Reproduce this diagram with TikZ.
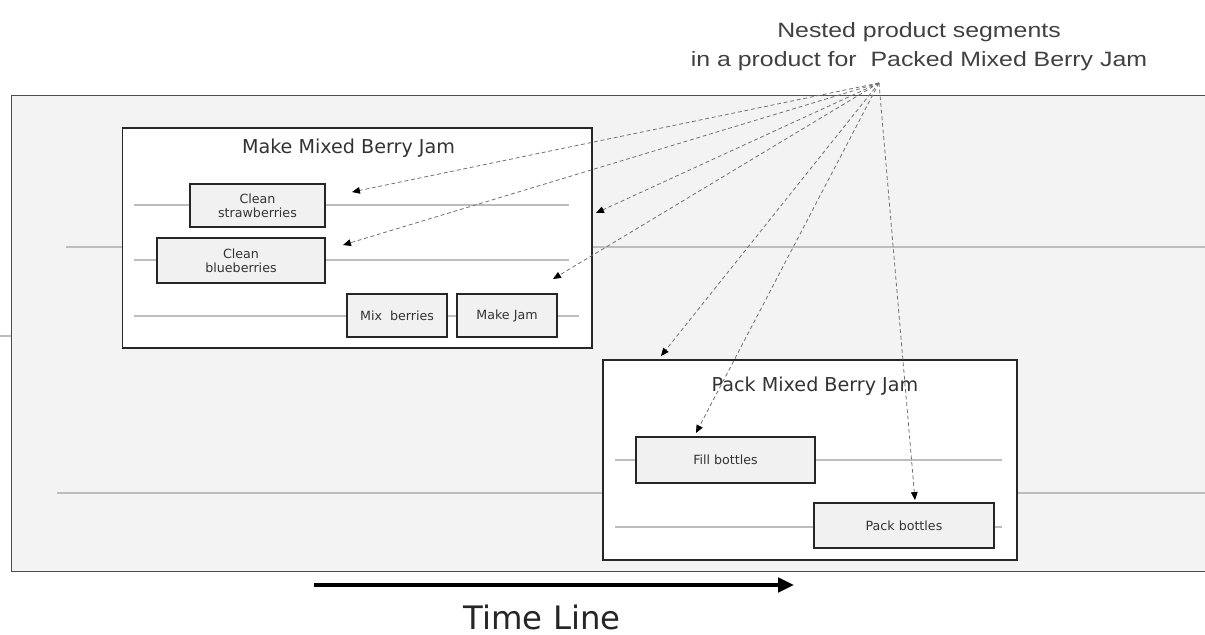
\documentclass[tikz,border=0pt]{standalone}
\usepackage{fontspec}
\usepackage{graphicx}
\setmainfont{DejaVu Sans}
\newfontfamily\headfont{Liberation Sans}
\usetikzlibrary{arrows.meta}
\definecolor{bgray}{HTML}{F3F3F3}
\definecolor{lgray}{HTML}{BDBDBD}
\definecolor{agray}{HTML}{707070}
\definecolor{sboxfill}{HTML}{F1F1F1}
\tikzset{
  px/.style={x=0.02cm,y=-0.02cm},
  tline/.style={draw=lgray,line width=1.1pt},
  bigbox/.style={draw=black!85,fill=white,line width=0.8pt,rectangle,inner sep=0pt},
  smallbox/.style={draw=black!85,fill=sboxfill,line width=0.8pt,rectangle,inner sep=0pt,align=center,font=\fontsize{7.2}{8.2}\selectfont,text=black!80},
  titletext/.style={font=\fontsize{10.9}{12}\selectfont,text=black!80},
  dasharrow/.style={draw=agray,line width=0.45pt,dash pattern=on 2.2pt off 1.6pt,-{Triangle[length=4.5pt,width=3.8pt,fill=black,color=black]}},
}
\begin{document}
\begin{tikzpicture}[px]
\useasboundingbox (0,0) rectangle (1205,635);
% outer background
\fill[bgray] (11.5,95.5) rectangle (1205,571.5);
\draw[black!70,line width=0.7pt] (1205,95.5) -- (11.5,95.5) -- (11.5,571.5) -- (1205,571.5);
\draw[lgray,line width=0.6pt] (0,336) -- (11,336);
% long timelines
\draw[tline] (66,247) -- (1205,247);
\draw[tline] (57,493) -- (1205,493);
% big boxes
\node[bigbox,minimum width=469.5*0.02cm,minimum height=220*0.02cm] (make) at (357.25,238) {};
\node[bigbox,minimum width=414*0.02cm,minimum height=200*0.02cm] (pack) at (810,460) {};
\node[titletext] (maketitle) at (348.5,148) {Make Mixed Berry Jam};
\node[titletext] (packtitle) at (815,386) {Pack Mixed Berry Jam};
% inner timelines
\draw[tline,line width=0.9pt] (134,205) -- (569,205);
\draw[tline,line width=0.9pt] (134,260) -- (569,260);
\draw[tline,line width=0.9pt] (134,316) -- (579,316);
\draw[tline,line width=0.9pt] (615,460) -- (1002,460);
\draw[tline,line width=0.9pt] (615,527) -- (1002,527);
% inner boxes
\node[smallbox,minimum width=135*0.02cm,minimum height=43*0.02cm] (cs) at (257.5,205.5) {Clean\\strawberries};
\node[smallbox,minimum width=168*0.02cm,minimum height=45*0.02cm] (cb) at (241,260.5) {Clean\\blueberries};
\node[smallbox,minimum width=100*0.02cm,minimum height=43*0.02cm] (mb) at (397,315.5) {Mix\ \ berries};
\node[smallbox,minimum width=100*0.02cm,minimum height=43*0.02cm] (mj) at (507,315.5) {Make Jam};
\node[smallbox,minimum width=179*0.02cm,minimum height=46*0.02cm] (fb) at (725.5,460) {Fill bottles};
\node[smallbox,minimum width=180*0.02cm,minimum height=45*0.02cm] (pb) at (904,525.5) {Pack bottles};
% top label
\node[font=\headfont\fontsize{11.8}{17}\selectfont,text=black!75,inner sep=0pt] (lbl) at (919,46)
  {\scalebox{1.2}[1]{\begin{tabular}{@{}c@{}}Nested product segments\\in a product for\ \ Packed Mixed Berry Jam\end{tabular}}};
% dashed arrows
\coordinate (src) at (879,83);
\coordinate (t1) at (352,192);
\coordinate (t2) at (343,245);
\coordinate (t3) at (596,213);
\coordinate (t4) at (553,279);
\coordinate (t5) at (661,356);
\coordinate (t6) at (696,433);
\coordinate (t7) at (915,500);
\foreach \t in {t1,t2,t3,t4,t5,t6,t7} \draw[dasharrow] (src) -- (\t);
% time line
\coordinate (tl0) at (314,585);
\coordinate (tl1) at (794,585);
\draw[line width=2.8pt,-{Triangle[length=9pt,width=8pt]}] (tl0) -- (tl1);
\node[font=\fontsize{18.4}{20}\selectfont,text=black!85,anchor=base,inner sep=0pt] (tltext) at (542,629) {Time Line};
\end{tikzpicture}
\end{document}
